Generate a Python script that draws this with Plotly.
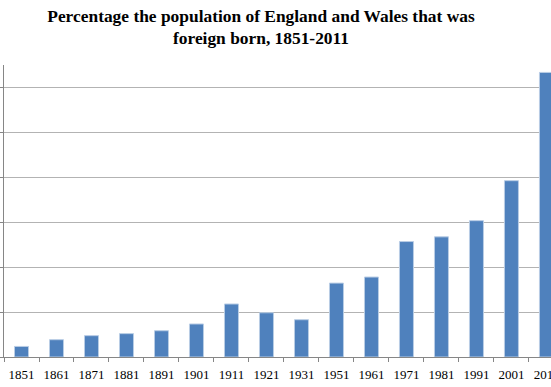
import plotly.graph_objects as go

years = ["1851", "1861", "1871", "1881", "1891", "1901", "1911", "1921", "1931",
         "1951", "1961", "1971", "1981", "1991", "2001", "2011"]
pct_foreign_born = [0.47, 0.77, 0.95, 1.04, 1.17, 1.47, 2.36, 1.97, 1.66,
                    3.29, 3.56, 5.14, 5.35, 6.07, 7.85, 12.67]

fig = go.Figure(go.Bar(
    x=years, y=pct_foreign_born,
    marker=dict(color="#4F81BD", line=dict(color="#B9CDE5", width=1)),
    hoverinfo="skip",
))

fig.update_layout(
    width=551, height=387,
    margin=dict(l=4, r=0, t=65, b=30, autoexpand=False),
    paper_bgcolor="white", plot_bgcolor="white",
    bargap=0.6,
    showlegend=False,
    title=dict(
        text="<b>Percentage the population of England and Wales that was<br>foreign born, 1851-2011</b>",
        x=261 / 551, xanchor="center", xref="container",
        y=1 - 21.5 / 387, yanchor="top", yref="container",
        font=dict(family="Liberation Serif", size=17.4, color="black"),
    ),
    font=dict(family="Liberation Serif", size=13, color="black"),
)

fig.update_xaxes(
    type="category", range=[-0.5, 15.13], automargin=False,
    tickson="boundaries", ticks="outside", ticklen=4, tickcolor="#868686",
    tickangle=0, ticklabelstandoff=5,
    showline=True, linecolor="#868686", linewidth=1,
    showgrid=False, tickfont=dict(family="Liberation Serif", size=13, color="black"),
)
fig.update_yaxes(
    range=[0, 13], dtick=2, showticklabels=False, automargin=False,
    ticks="outside", ticklen=4, tickcolor="#868686",
    showline=True, linecolor="#868686", linewidth=1,
    showgrid=True, gridcolor="#B3B3B3", gridwidth=1, zeroline=False,
)

fig.write_html(
    "out.html",
    config={"displayModeBar": False},
    post_script="document.body.style.margin='0';document.body.style.overflow='hidden';",
)
